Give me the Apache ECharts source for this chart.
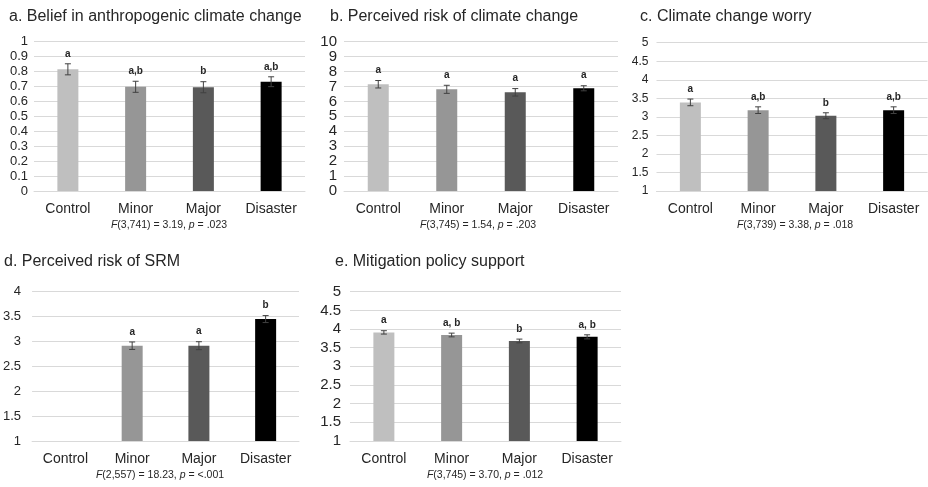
<!DOCTYPE html>
<html>
<head>
<meta charset="utf-8">
<script src="https://cdn.jsdelivr.net/npm/echarts@6/dist/echarts.min.js"></script>
<style>html,body{margin:0;padding:0;background:#fff;}#c{width:928px;height:487px;}</style>
</head>
<body>
<div id="c"></div>
<script>
const categories = ['Control', 'Minor', 'Major', 'Disaster'];

const beliefMeans = [0.815, 0.698, 0.695, 0.732];
const beliefErr = [0.037, 0.037, 0.037, 0.033];
const beliefLetters = ['a', 'a,b', 'b', 'a,b'];

const riskMeans = [7.15, 6.81, 6.61, 6.88];
const riskErr = [0.25, 0.27, 0.25, 0.17];
const riskLetters = ['a', 'a', 'a', 'a'];

const worryMeans = [3.39, 3.18, 3.03, 3.18];
const worryErr = [0.09, 0.09, 0.08, 0.09];
const worryLetters = ['a', 'a,b', 'b', 'a,b'];

const srmMeans = [null, 2.915, 2.915, 3.45];
const srmErr = [null, 0.075, 0.08, 0.07];
const srmLetters = ['', 'a', 'a', 'b'];

const policyMeans = [3.91, 3.84, 3.68, 3.79];
const policyErr = [0.045, 0.05, 0.05, 0.055];
const policyLetters = ['a', 'a, b', 'b', 'a, b'];

const titles = [
  'a. Belief in anthropogenic climate change',
  'b. Perceived risk of climate change',
  'c. Climate change worry',
  'd. Perceived risk of SRM',
  'e. Mitigation policy support'
];
const stats = [
  '{i|F}(3,741) = 3.19, {i|p} = .023',
  '{i|F}(3,745) = 1.54, {i|p} = .203',
  '{i|F}(3,739) = 3.38, {i|p} = .018',
  '{i|F}(2,557) = 18.23, {i|p} = <.001',
  '{i|F}(3,745) = 3.70, {i|p} = .012'
];
const yMin = [0, 0, 1, 1, 1];
const yMax = [1, 10, 5, 4, 5];
const yStep = [0.1, 1, 0.5, 0.5, 0.5];

const panels = [
  {means: beliefMeans, err: beliefErr, letters: beliefLetters},
  {means: riskMeans, err: riskErr, letters: riskLetters},
  {means: worryMeans, err: worryErr, letters: worryLetters},
  {means: srmMeans, err: srmErr, letters: srmLetters},
  {means: policyMeans, err: policyErr, letters: policyLetters}
];

// layout
const grids = [
  {left: 34, top: 41.7, width: 271, height: 149.3},
  {left: 344, top: 41.7, width: 274, height: 149.3},
  {left: 656.5, top: 42.7, width: 271, height: 148.3},
  {left: 28, top: 291.7, width: 271, height: 149.3},
  {left: 350, top: 291.7, width: 271, height: 149.3}
];
const titlePos = [[9, 7], [330, 7], [640, 7], [4, 252], [335, 252]];
const statX = [169, 478, 795, 160, 485];
const yLabelSize = [13, 15, 12, 13, 15];
const yLabelMargin = [6, 7, 8, 11, 9];
const barColors = ['#bfbfbf', '#969696', '#595959', '#000000'];
const textColor = '#262626';

const option = {
  animation: false,
  backgroundColor: '#ffffff',
  title: titles.map((t, i) => ({
    text: t, left: titlePos[i][0], top: titlePos[i][1], padding: 0,
    textStyle: {fontFamily: 'Liberation Sans, Arial', fontSize: 16, fontWeight: 'normal', color: textColor, lineHeight: 20}
  })),
  grid: grids.map(g => Object.assign({containLabel: false}, g)),
  xAxis: grids.map((g, i) => ({
    type: 'category', gridIndex: i, data: categories,
    axisTick: {show: false},
    axisLine: {show: true, lineStyle: {color: '#d9d9d9', width: 1}},
    axisLabel: {color: textColor, fontSize: 14, fontFamily: 'Liberation Sans, Arial', margin: 11, interval: 0}
  })),
  yAxis: grids.map((g, i) => ({
    type: 'value', gridIndex: i, min: yMin[i], max: yMax[i], interval: yStep[i],
    axisLine: {show: false}, axisTick: {show: false},
    splitLine: {lineStyle: {color: '#d9d9d9', width: 1}},
    axisLabel: {color: textColor, fontSize: yLabelSize[i], fontFamily: 'Liberation Sans, Arial', margin: yLabelMargin[i]}
  })),
  graphic: stats.map((s, i) => ({
    type: 'text',
    x: statX[i], y: grids[i].top + grids[i].height + 34,
    style: {
      text: s, fill: textColor, font: '10.5px "Liberation Sans", Arial',
      rich: {i: {fontStyle: 'italic', fontSize: 10.5, fontFamily: 'Liberation Sans'}},
      textAlign: 'center', textVerticalAlign: 'middle'
    }
  })),
  series: []
};

panels.forEach((p, i) => {
  option.series.push({
    type: 'bar', xAxisIndex: i, yAxisIndex: i, barWidth: 21,
    data: p.means.map((v, k) => ({value: v == null ? '-' : v, itemStyle: {color: barColors[k]}}))
  });
  option.series.push({
    type: 'custom', xAxisIndex: i, yAxisIndex: i, z: 5,
    data: p.means.map((v, k) => [k, v, p.err[k]]).filter(d => d[1] != null),
    renderItem: function (params, api) {
      const x = api.value(0), m = api.value(1), e = api.value(2);
      const lab = p.letters[x];
      const top = api.coord([x, m + e]);
      const bot = api.coord([x, m - e]);
      const cap = 3;
      const ls = {stroke: '#404040', lineWidth: 1};
      return {
        type: 'group',
        children: [
          {type: 'line', shape: {x1: top[0], y1: top[1], x2: bot[0], y2: bot[1]}, style: ls},
          {type: 'line', shape: {x1: top[0] - cap, y1: top[1], x2: top[0] + cap, y2: top[1]}, style: ls},
          {type: 'line', shape: {x1: bot[0] - cap, y1: bot[1], x2: bot[0] + cap, y2: bot[1]}, style: ls},
          {type: 'text', x: top[0], y: top[1] - 10,
           style: {text: lab, fill: '#262626', font: 'bold 10px "Liberation Sans", Arial', textAlign: 'center', textVerticalAlign: 'middle'}}
        ]
      };
    }
  });
});

const chart = echarts.init(document.getElementById('c'), null, {renderer: 'canvas'});
chart.setOption(option);
</script>
</body>
</html>
